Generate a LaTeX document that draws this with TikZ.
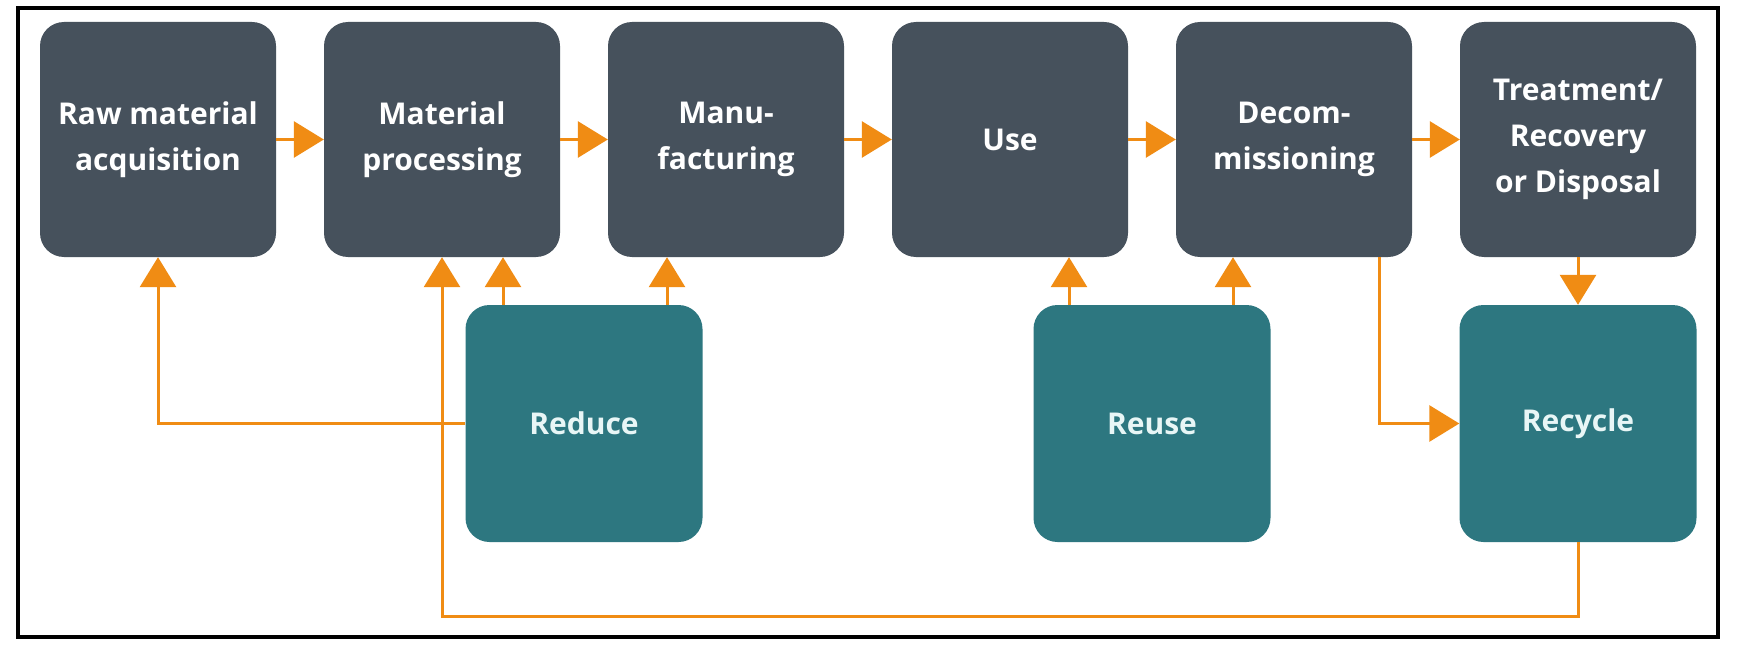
\documentclass[tikz,border=0pt]{standalone}
\usepackage{fontspec}
\setmainfont{Open Sans}
\usetikzlibrary{arrows.meta,positioning}
\definecolor{slate}{HTML}{46515C}
\definecolor{teal2}{HTML}{2D7780}
\definecolor{orng}{HTML}{F08C14}
\definecolor{txtlight}{HTML}{E8F6F6}
\tikzset{
  stagebox/.style={rectangle, rounded corners=24pt, fill=slate, draw=none,
    minimum width=236pt, minimum height=235pt, inner sep=0pt,
    text=white, align=center, font=\fontsize{30}{46}\selectfont\bfseries},
  rbox/.style={stagebox, fill=teal2, text=txtlight, minimum width=237pt, minimum height=237pt},
  arr/.style={draw=orng, line width=3pt, -{Triangle[length=30pt,width=36pt]}},
  frame/.style={draw=black, line width=3.5pt}
}
\begin{document}
\begin{tikzpicture}[x=1pt,y=-1pt]
\useasboundingbox (0,0) rectangle (1740,650);
\fill[white] (0,0) rectangle (1740,650);
\draw[frame] (18,8) rectangle (1718,637);

\node[stagebox] (b1) at (158,139.5) {Raw material\\acquisition};
\node[stagebox] (b2) at (442,139.5) {Material\\processing};
\node[stagebox] (b3) at (726,139.5) {Manu-\\facturing};
\node[stagebox] (b4) at (1010,139.5) {Use};
\node[stagebox] (b5) at (1294,139.5) {Decom-\\missioning};
\node[stagebox] (b6) at (1578,139.5) {Treatment/\\Recovery\\or Disposal};

\node[rbox] (reduce) at (584,423.5) {Reduce};
\node[rbox] (reuse) at (1152,423.5) {Reuse};
\node[rbox] (recycle) at (1578,423.5) {Recycle};

\draw[arr] (b1.east) -- (b2.west);
\draw[arr] (b2.east) -- (b3.west);
\draw[arr] (b3.east) -- (b4.west);
\draw[arr] (b4.east) -- (b5.west);
\draw[arr] (b5.east) -- (b6.west);

\draw[arr] ([xshift=-81pt]reduce.north) -- ([xshift=-81pt]reduce.north |- b2.south);
\draw[arr] ([xshift=83pt]reduce.north) -- ([xshift=83pt]reduce.north |- b3.south);
\draw[arr] (reduce.west) -| (b1.south);

\coordinate (lp) at (442,616);
\draw[arr] (recycle.south) |- (lp) -- (b2.south);

\draw[arr] ([xshift=-83pt]reuse.north) -- ([xshift=-83pt]reuse.north |- b4.south);
\draw[arr] ([xshift=81pt]reuse.north) -- ([xshift=81pt]reuse.north |- b5.south);

\draw[arr] ([xshift=85pt]b5.south) |- (recycle.west);
\draw[arr] (b6.south) -- (recycle.north);
\end{tikzpicture}
\end{document}
